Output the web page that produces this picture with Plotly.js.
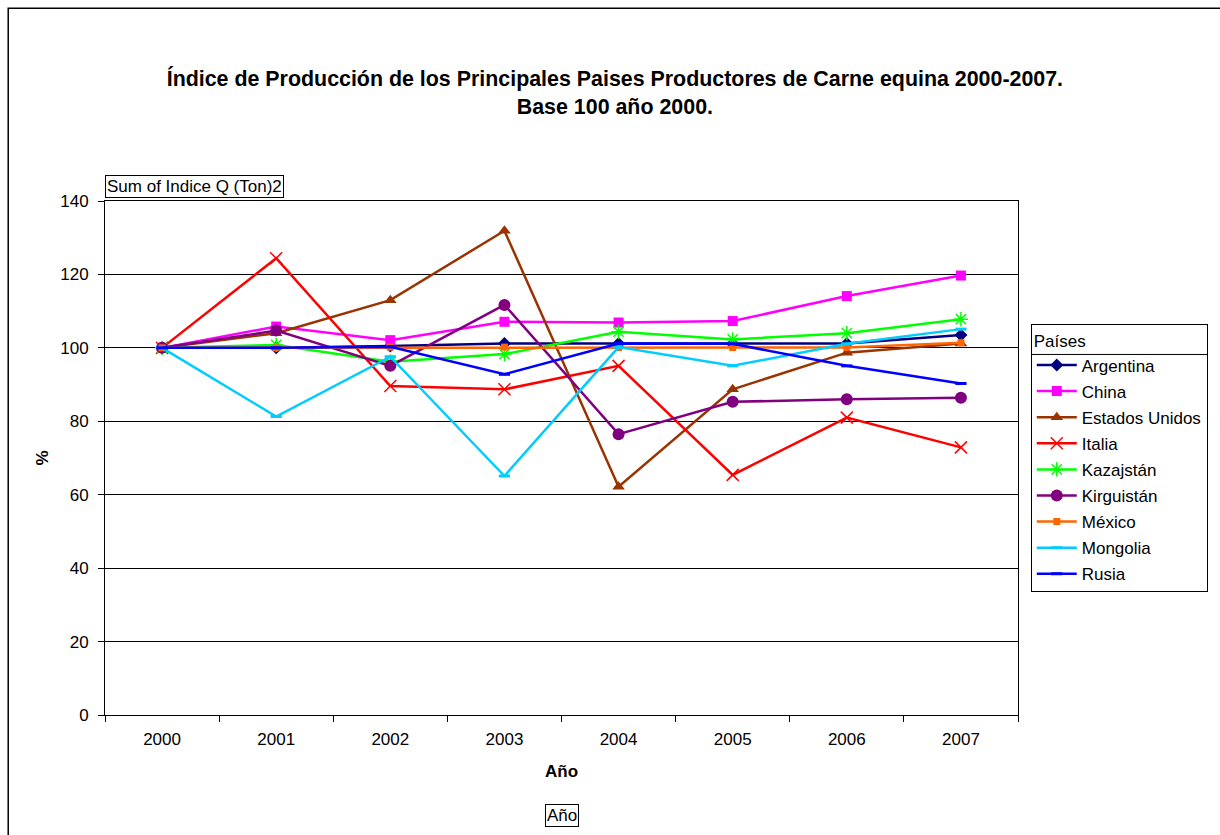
<!DOCTYPE html>
<html><head><meta charset="utf-8">
<script src="https://cdn.plot.ly/plotly-3.0.1.min.js"></script>
<style>body{margin:0;background:#fff}#c{width:1220px;height:835px}</style>
</head><body><div id="c"></div>
<script>
const years = ['2000','2001','2002','2003','2004','2005','2006','2007'];
const argentina = [100, 100, 100.5, 101.2, 101.2, 101.1, 101.2, 103.5];
const china = [100, 105.8, 102.1, 107.1, 106.9, 107.3, 114.1, 119.7];
const estadosUnidos = [100, 104.0, 113.0, 131.9, 62.2, 88.7, 98.7, 101.2];
const italia = [100, 124.4, 89.6, 88.7, 95.1, 65.4, 81.0, 72.9];
const kazajstan = [100, 100.8, 96.2, 98.3, 104.4, 102.3, 104.0, 107.8];
const kirguistan = [100, 104.7, 95.1, 111.7, 76.5, 85.3, 86.0, 86.4];
const mexico = [100, 100, 100.2, 100.2, 100.1, 100.1, 100.1, 101.4];
const mongolia = [100, 81.3, 97.6, 65.1, 100.2, 95.1, 101.1, 105.1];
const rusia = [100, 100, 100.3, 92.8, 101.2, 101.1, 95.1, 90.3];

const seriesNames = ['Argentina','China','Estados Unidos','Italia','Kazajstán','Kirguistán','México','Mongolia','Rusia'];
const seriesData = [argentina, china, estadosUnidos, italia, kazajstan, kirguistan, mexico, mongolia, rusia];
const styles = [
  {c:'#000080', m:{symbol:'diamond', size:10}},
  {c:'#FF00FF', m:{symbol:'square', size:10}},
  {c:'#993300', m:{symbol:'triangle-up', size:11}},
  {c:'#FF0000', m:{symbol:'x-thin-open', size:12, line:{width:1.5,color:'#FF0000'}}},
  {c:'#00FF00', m:{symbol:'asterisk-open', size:12, line:{width:1.5,color:'#00FF00'}}},
  {c:'#800080', m:{symbol:'circle', size:12}},
  {c:'#FF6600', m:{symbol:'square', size:7}},
  {c:'#00CCFF', m:{symbol:'line-ew-open', size:8, line:{width:3,color:'#00CCFF'}}},
  {c:'#0000FF', m:{symbol:'line-ew-open', size:8, line:{width:3,color:'#0000FF'}}}
];
const traces = seriesNames.map((n,i)=>({
  type:'scatter', mode:'lines+markers', name:n, x:years, y:seriesData[i],
  legendgroup:'g'+i,
  line:{color:styles[i].c, width:2.5},
  marker:Object.assign({color:styles[i].c}, styles[i].m)
}));

const F = 'Liberation Sans, Arial, sans-serif';
const FS = 17;
const layout = {
  width:1220, height:835,
  margin:{l:105, r:202, t:201, b:120},
  paper_bgcolor:'#fff', plot_bgcolor:'#fff',
  font:{family:F, size:FS, color:'#000'},
  showlegend:true,
  title:{text:'<b>Índice de Producción de los Principales Paises Productores de Carne equina 2000-2007.<br>Base 100 año 2000.</b>',
    font:{family:F, size:21.4, color:'#000'}, x:0.504, xanchor:'center', y:0.897, yanchor:'middle'},
  xaxis:{type:'category', tickson:'boundaries', ticks:'outside', ticklen:6, tickcolor:'#000',
    showline:true, linecolor:'#000', linewidth:1, mirror:true, showgrid:false,
    tickfont:{family:F, size:FS}, range:[-0.5,7.5], ticklabelstandoff:9,
    title:{text:'<b>Año</b>', font:{family:F, size:FS}, standoff:16}},
  yaxis:{range:[0,140], dtick:20, ticks:'outside', ticklen:6, tickcolor:'#000',
    showline:true, linecolor:'#000', linewidth:1, mirror:true,
    showgrid:true, gridcolor:'#000', gridwidth:1, zeroline:false,
    tickfont:{family:F, size:FS}, ticklabelstandoff:6,
    title:{text:'<b>%</b>', font:{family:F, size:FS}, standoff:7}},
  legend:{x:1.014, xanchor:'left', y:0.76, yanchor:'top', bgcolor:'rgba(0,0,0,0)',
    bordercolor:'#000', borderwidth:1, font:{family:F, size:FS},
    title:{text:'Países', font:{family:F, size:FS}},
    tracegroupgap:1, itemwidth:40},
  annotations:[
    {text:'Sum of Indice Q (Ton)2', xref:'paper', yref:'paper', x:0, y:1.029, xanchor:'left', yanchor:'middle',
     showarrow:false, bordercolor:'#000', borderwidth:1, borderpad:1, font:{family:F, size:FS}},
    {text:'Año', xref:'paper', yref:'paper', x:0.501, y:-0.1946, xanchor:'center', yanchor:'middle',
     showarrow:false, bordercolor:'#000', borderwidth:1, borderpad:1, font:{family:F, size:FS}}
  ],
  shapes:[
    {type:'rect', xref:'paper', yref:'paper', x0:-0.106, x1:1.3, y0:-0.3, y1:1.375, line:{color:'#000', width:1.5}, layer:'below'}
  ]
};
Plotly.newPlot('c', traces, layout, {displayModeBar:false, staticPlot:true}).then(gd=>{
  const bg = gd.querySelector('.legend .bg');
  const t = gd.querySelector('.legend .legendtitletext');
  if (bg && t) {
    const r = bg.getBoundingClientRect();
    const tr = t.getBoundingClientRect();
    const fl = gd._fullLayout;
    const ySep = tr.bottom + 3;
    const toPx = (px)=> (px - fl.margin.l)/fl._size.w;
    const toPy = (py)=> 1 - (py - fl.margin.t)/fl._size.h;
    const shapes = layout.shapes.concat([{type:'line', xref:'paper', yref:'paper',
      x0:toPx(r.left), x1:toPx(r.right), y0:toPy(ySep), y1:toPy(ySep), line:{color:'#000', width:1}}]);
    return Plotly.relayout(gd, {shapes: shapes});
  }
});
</script></body></html>
